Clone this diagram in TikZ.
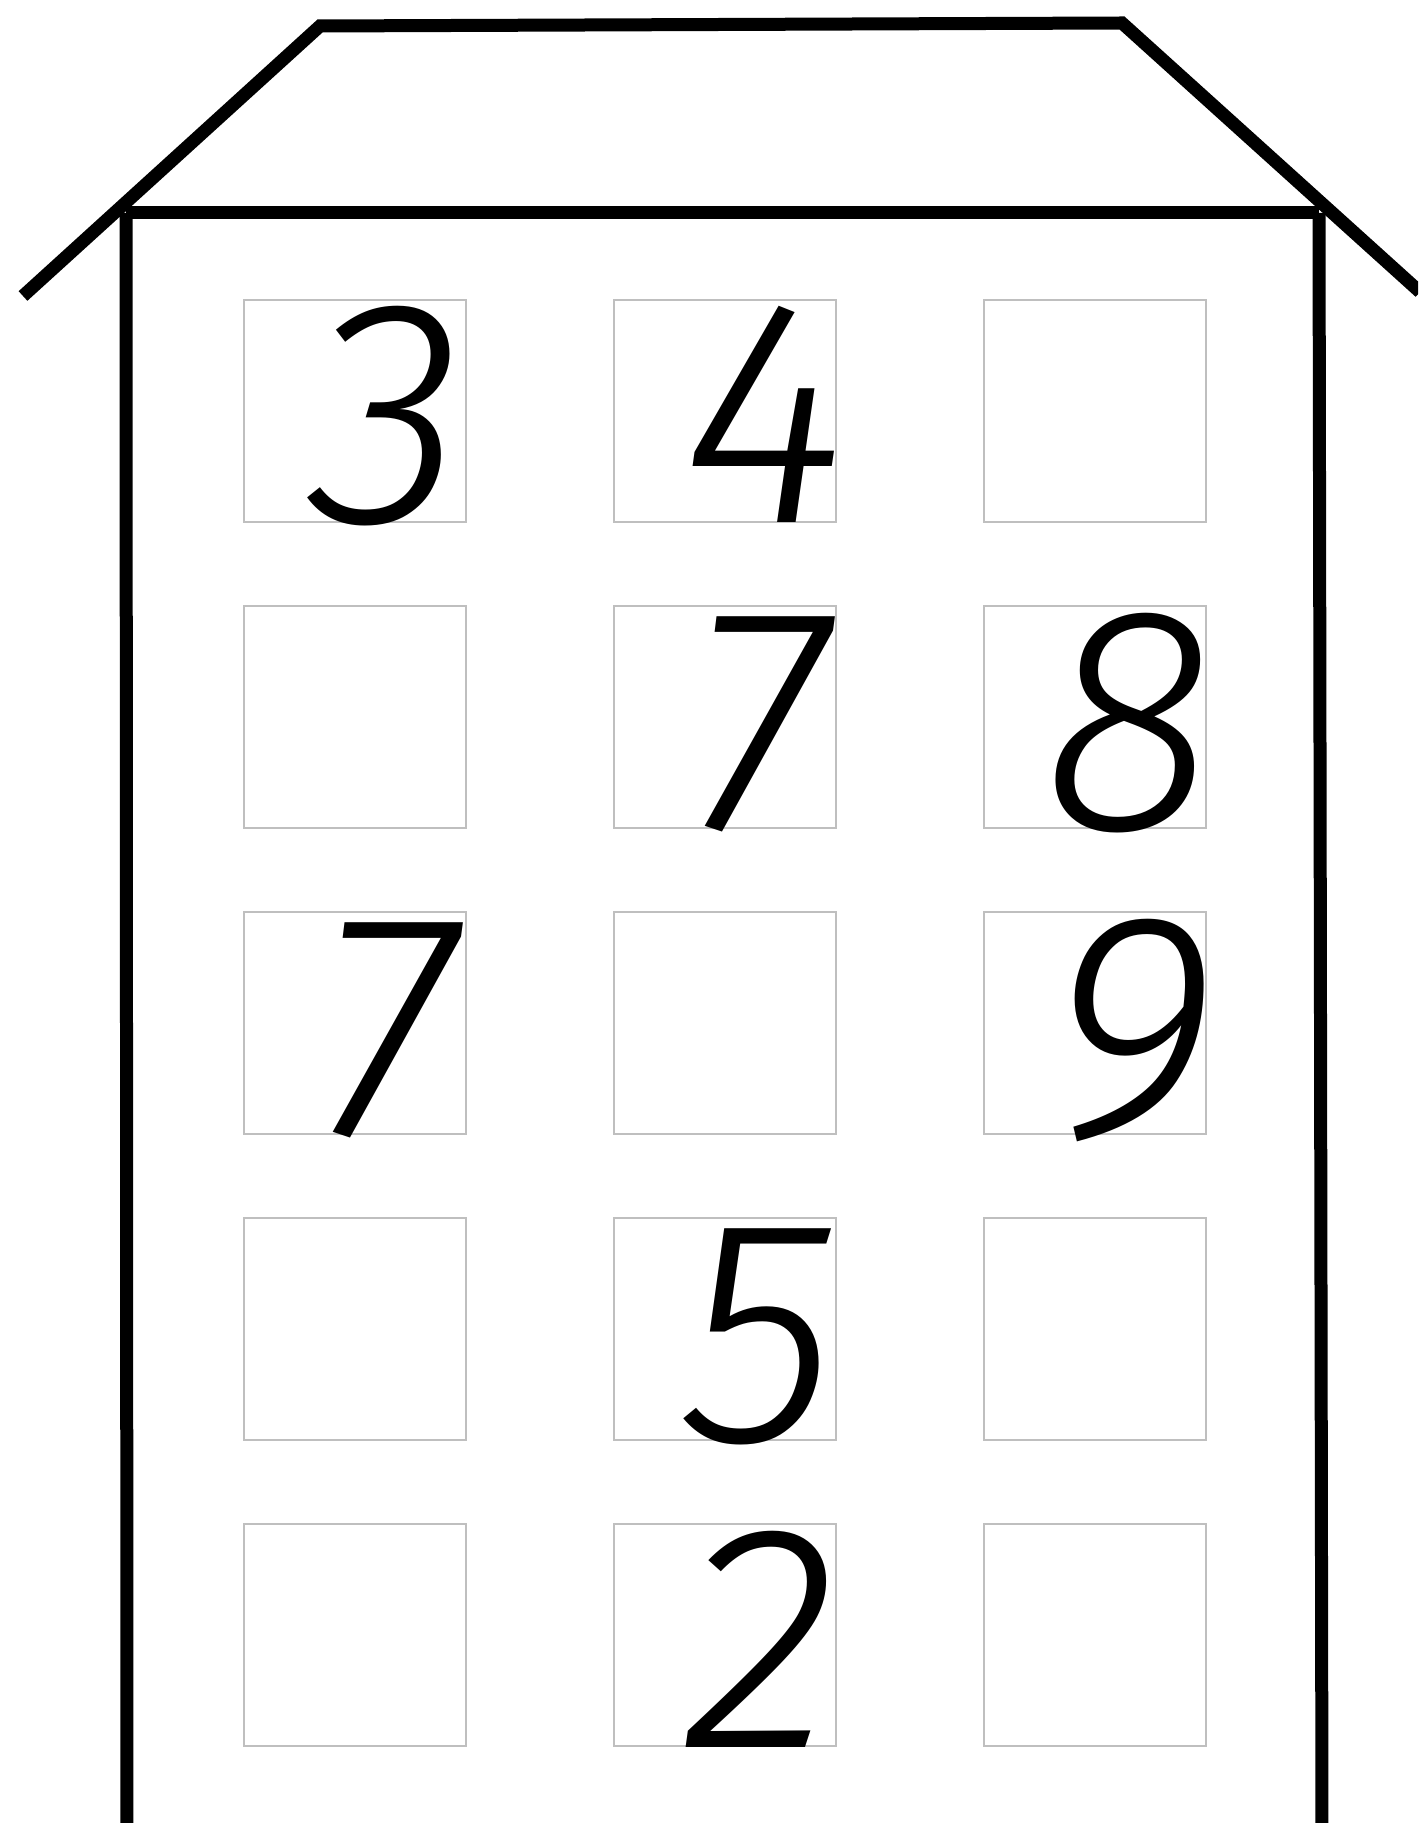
\documentclass[tikz,border=0pt]{standalone}
\usepackage{fontspec}
\usetikzlibrary{positioning}
\newfontfamily\digitfont{Fira Sans Light Italic}

\begin{document}
\begin{tikzpicture}[x=0.5pt,y=-0.5pt,
  wall/.style={line width=6.5pt,line join=miter},
  window/.style={draw=black!25,line width=1pt,minimum width=111pt,minimum height=111pt,inner sep=0pt},
  digit/.style={font=\digitfont\fontsize{160}{160}\selectfont,anchor=base,inner sep=0pt}]
  \useasboundingbox (0,0) rectangle (1418,1823);
  \clip (0,0) rectangle (1418,1823);

  % Roof and walls
  \draw[wall] (23,296) -- (320,26) -- (1122,23) -- (1420,292);
  \draw[wall] (126,213) -- (1319,213);
  \draw[wall] (126,213) -- (127,1840);
  \draw[wall] (1319,213) -- (1322,1840);

  % Windows
  \foreach \r in {0,...,4} {
    \foreach \c in {0,1,2} {
      \node[window] (w-\r-\c) at ({355+370*\c},{411+306*\r}) {};
    }
  }

  % Numbers
  \node[digit] (n-3)  at ([xshift=16pt]w-0-0.south) {3};
  \node[digit] (n-4)  at ([xshift=20pt]w-0-1.south) {4};
  \node[digit] (n-7a) at ([xshift=17pt]w-1-1.south) {7};
  \node[digit] (n-8)  at ([xshift=17pt]w-1-2.south) {8};
  \node[digit] (n-7b) at ([xshift=16pt]w-2-0.south) {7};
  \node[digit] (n-9)  at ([xshift=19pt]w-2-2.south) {9};
  \node[digit] (n-5)  at ([xshift=17pt]w-3-1.south) {5};
  \node[digit] (n-2)  at ([xshift=18pt]w-4-1.south) {2};
\end{tikzpicture}
\end{document}
